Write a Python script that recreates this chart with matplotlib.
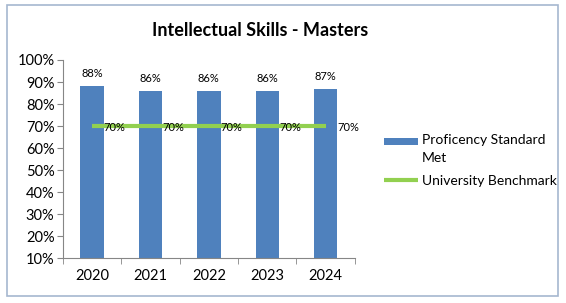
import numpy as np
import matplotlib
matplotlib.use("Agg")
import matplotlib.pyplot as plt
from matplotlib.patches import Rectangle
from matplotlib.legend_handler import HandlerPatch

years = ["2020", "2021", "2022", "2023", "2024"]
proficiency = [88, 86, 86, 86, 87]
benchmark = [70, 70, 70, 70, 70]
yticks = [10, 20, 30, 40, 50, 60, 70, 80, 90, 100]

plt.rcParams["font.family"] = ["Lato", "DejaVu Sans"]


def top_patch(legend, orig_handle, xdescent, ydescent, width, height, fontsize):
    # put the bar swatch beside the first line of a two-line label
    return Rectangle((-xdescent, -ydescent + 6.5), width, height * 0.75)


fig = plt.figure(figsize=(5.66, 3.03), dpi=100)
fig.patch.set_facecolor("white")
# outer chart border
fig.patches.append(Rectangle((7 / 566, 7 / 303), 551 / 566, 291 / 303,
                             transform=fig.transFigure, fill=False,
                             edgecolor="#a6b7cf", lw=1.2))

ax = fig.add_axes([0.111, 0.148, 0.516, 0.654])
x = np.arange(len(years))

bars = ax.bar(x, proficiency, width=0.4, color="#4f81bd", zorder=2)
line, = ax.plot(x, benchmark, color="#92d050", lw=3, solid_capstyle="butt",
                zorder=3)

for xi, v in zip(x, proficiency):
    ax.text(xi, v + 3.2, f"{v}%", ha="center", va="bottom", fontsize=8)
for xi, v in zip(x, benchmark):
    ax.text(xi + 0.2, v - 0.5, f"{v}%", ha="left", va="center", fontsize=8)

ax.set_xlim(-0.5, len(years) - 0.5)
ax.set_ylim(10, 100)
ax.set_yticks(yticks)
ax.set_yticklabels([f"{t}%" for t in yticks], fontsize=10.5)
ax.set_xticks(x)
ax.set_xticklabels(years, fontsize=10.5)
ax.set_xticks(np.arange(len(years) + 1) - 0.5, minor=True)
ax.tick_params(axis="x", which="major", length=0, pad=8)
ax.tick_params(axis="x", which="minor", length=4, color="#868686")
ax.tick_params(axis="y", length=4, color="#868686", pad=2)

for side in ["top", "right"]:
    ax.spines[side].set_visible(False)
for side in ["left", "bottom"]:
    ax.spines[side].set_color("#868686")

fig.text(260 / 566, 0.9, "Intellectual Skills - Masters", ha="center",
         va="center", fontsize=13, fontweight="bold")

bar_handle = bars.patches[0]
leg = fig.legend([bar_handle, line],
                 ["Proficency Standard\nMet", "University Benchmark"],
                 loc="center left", bbox_to_anchor=(0.657, 0.47),
                 frameon=False, fontsize=10, handlelength=2.4,
                 handletextpad=0.3, labelspacing=0.8,
                 handler_map={bar_handle: HandlerPatch(patch_func=top_patch)})
for t in leg.get_texts():
    t.set_linespacing(1.6)

fig.savefig("out.png", dpi=100)
